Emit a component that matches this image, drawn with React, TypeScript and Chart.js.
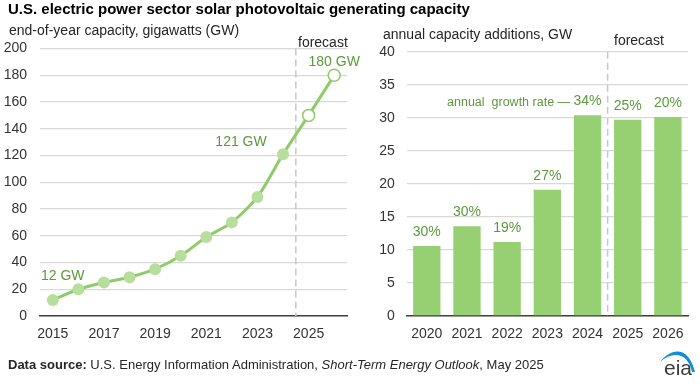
import React, { useEffect, useRef } from "react";
import { Chart, registerables } from "chart.js";

Chart.register(...registerables);

// ---------- data ----------
const capacityYears = ["2015", "2016", "2017", "2018", "2019", "2020", "2021", "2022", "2023", "2024", "2025", "2026"];
const capacityGW = [12, 20, 25, 29, 35, 45, 59, 70, 89, 121, 150, 180];
const capacityForecastStart = 10; // index of first forecast year (2025)
const capacityLabelIndexes = [0, 9, 11];
const capacityLabelTexts = ["12 GW", "121 GW", "180 GW"];

const additionYears = ["2020", "2021", "2022", "2023", "2024", "2025", "2026"];
const additionsGW = [10.6, 13.6, 11.2, 19.1, 30.4, 29.7, 30.1];
const growthRates = ["30%", "30%", "19%", "27%", "34%", "25%", "20%"];
const additionsForecastStart = 5; // 2025
const growthNoteIndex = 4;
const growthNotePrefix = "annual  growth rate \u2014 ";

const capacityAxisMax = 200;
const capacityAxisStep = 20;
const additionsAxisMax = 40;
const additionsAxisStep = 5;

// ---------- styles ----------
const FONT = '"Liberation Sans", Arial, Helvetica, sans-serif';
const TICK_COLOR = "#333333";
const GRID_COLOR = "#d9d9d9";
const AXIS_COLOR = "#404040";
const LINE_COLOR = "#8fcb69";
const POINT_FILL = "#b8de9e";
const BAR_COLOR = "#97d072";
const LABEL_GREEN = "#5b9a3a";
const DASH_COLOR = "#c8c8c8";

const forecastLinePlugin = (splitIndex: number) => ({
  id: "forecastLine",
  beforeDatasetsDraw(chart: any) {
    const x = chart.scales.x;
    const { top, bottom } = chart.chartArea;
    const px = (x.getPixelForValue(splitIndex - 1) + x.getPixelForValue(splitIndex)) / 2;
    const ctx = chart.ctx;
    ctx.save();
    ctx.strokeStyle = DASH_COLOR;
    ctx.lineWidth = 1.5;
    ctx.setLineDash([7, 4]);
    ctx.beginPath();
    ctx.moveTo(px, top);
    ctx.lineTo(px, bottom);
    ctx.stroke();
    ctx.restore();
  },
});

const capacityLabelPlugin = {
  id: "capacityLabels",
  afterDatasetsDraw(chart: any) {
    const meta = chart.getDatasetMeta(0);
    const ctx = chart.ctx;
    ctx.save();
    ctx.fillStyle = LABEL_GREEN;
    ctx.font = `14px ${FONT}`;
    ctx.textBaseline = "middle";
    capacityLabelIndexes.forEach((idx, k) => {
      const pt = meta.data[idx];
      let dx = 0;
      let dy = -13;
      if (k === 0) { dx = 10; dy = -24; }
      if (k === 1) { dx = -42; dy = -12; }
      ctx.textAlign = "center";
      ctx.fillText(capacityLabelTexts[k], pt.x + dx, pt.y + dy);
    });
    ctx.restore();
  },
};

const growthLabelPlugin = {
  id: "growthLabels",
  afterDatasetsDraw(chart: any) {
    const meta = chart.getDatasetMeta(0);
    const ctx = chart.ctx;
    ctx.save();
    ctx.fillStyle = LABEL_GREEN;
    ctx.textBaseline = "middle";
    growthRates.forEach((txt, i) => {
      const bar = meta.data[i];
      const y = bar.y - 14;
      ctx.font = `14px ${FONT}`;
      ctx.textAlign = "center";
      ctx.fillText(txt, bar.x, y);
      if (i === growthNoteIndex) {
        const w = ctx.measureText(txt).width;
        ctx.font = `12.5px ${FONT}`;
        ctx.textAlign = "right";
        ctx.fillText(growthNotePrefix, bar.x - w / 2, y + 1);
      }
    });
    ctx.restore();
  },
};

const tickFont = { family: FONT, size: 14 };

export default function App() {
  const leftRef = useRef<HTMLCanvasElement>(null);
  const rightRef = useRef<HTMLCanvasElement>(null);

  useEffect(() => {
    document.body.style.margin = "0";
    const left = new Chart(leftRef.current as HTMLCanvasElement, {
      type: "line",
      data: {
        labels: capacityYears,
        datasets: [
          {
            data: capacityGW,
            borderColor: LINE_COLOR,
            borderWidth: 3,
            tension: 0.25,
            pointRadius: 6,
            pointHoverRadius: 6,
            pointBackgroundColor: capacityGW.map((_, i) => (i >= capacityForecastStart ? "#ffffff" : POINT_FILL)),
            pointBorderColor: capacityGW.map((_, i) => (i >= capacityForecastStart ? LINE_COLOR : POINT_FILL)),
            pointBorderWidth: capacityGW.map((_, i) => (i >= capacityForecastStart ? 1.5 : 0)),
          },
        ],
      },
      options: {
        responsive: false,
        animation: false,
        devicePixelRatio: 1,
        layout: { padding: { left: 0, right: 13, top: 48.5, bottom: 44 } },
        plugins: { legend: { display: false }, tooltip: { enabled: false } },
        scales: {
          x: {
            offset: true,
            grid: { display: false, drawTicks: false },
            border: { display: true, color: AXIS_COLOR, width: 1.5 },
            ticks: {
              color: TICK_COLOR,
              font: tickFont,
              autoSkip: false,
              maxRotation: 0,
              padding: 10,
              callback: (_v: any, i: number) => (i % 2 === 0 ? capacityYears[i] : ""),
            },
            afterFit: (s: any) => { s.height = 30; },
          },
          y: {
            min: 0,
            max: capacityAxisMax,
            grid: { color: GRID_COLOR, lineWidth: 1.3, drawTicks: false },
            border: { display: false },
            ticks: { stepSize: capacityAxisStep, color: TICK_COLOR, font: tickFont, padding: 13 },
            afterFit: (s: any) => { s.width = 40; },
          },
        },
      },
      plugins: [forecastLinePlugin(capacityForecastStart), capacityLabelPlugin],
    } as any);

    const right = new Chart(rightRef.current as HTMLCanvasElement, {
      type: "bar",
      data: {
        labels: additionYears,
        datasets: [
          {
            data: additionsGW,
            backgroundColor: BAR_COLOR,
            borderWidth: 0,
            categoryPercentage: 1,
            barPercentage: 0.68,
          },
        ],
      },
      options: {
        responsive: false,
        animation: false,
        devicePixelRatio: 1,
        layout: { padding: { left: 0, right: 12, top: 51.7, bottom: 44 } },
        plugins: { legend: { display: false }, tooltip: { enabled: false } },
        scales: {
          x: {
            grid: { display: false, drawTicks: false },
            border: { display: true, color: AXIS_COLOR, width: 1.5 },
            ticks: { color: TICK_COLOR, font: tickFont, autoSkip: false, maxRotation: 0, padding: 10 },
            afterFit: (s: any) => { s.height = 30; },
          },
          y: {
            min: 0,
            max: additionsAxisMax,
            grid: { color: GRID_COLOR, lineWidth: 1.3, drawTicks: false },
            border: { display: false },
            ticks: { stepSize: additionsAxisStep, color: TICK_COLOR, font: tickFont, padding: 12 },
            afterFit: (s: any) => { s.width = 46.7; },
          },
        },
      },
      plugins: [forecastLinePlugin(additionsForecastStart), growthLabelPlugin],
    } as any);

    return () => {
      left.destroy();
      right.destroy();
    };
  }, []);

  const text = (style: React.CSSProperties): React.CSSProperties => ({
    position: "absolute",
    whiteSpace: "nowrap",
    lineHeight: 1,
    fontFamily: FONT,
    ...style,
  });

  return (
    <div style={{ position: "fixed", left: 0, top: 0, width: 700, height: 390, background: "#ffffff", overflow: "hidden", fontFamily: FONT }}>
      <canvas ref={leftRef} width={360} height={390} style={{ position: "absolute", left: 0, top: 0, width: 360, height: 390 }} />
      <canvas ref={rightRef} width={340} height={390} style={{ position: "absolute", left: 360, top: 0, width: 340, height: 390 }} />
      <div style={text({ left: 8, top: 1, fontSize: 15, fontWeight: "bold", color: "#000" })}>
        U.S. electric power sector solar photovoltaic generating capacity
      </div>
      <div style={text({ left: 9, top: 23, fontSize: 14, color: "#262626" })}>end-of-year capacity, gigawatts (GW)</div>
      <div style={text({ left: 298, top: 35, fontSize: 14, color: "#262626" })}>forecast</div>
      <div style={text({ left: 383, top: 27, fontSize: 14, color: "#262626" })}>annual capacity additions, GW</div>
      <div style={text({ left: 614, top: 33, fontSize: 14, color: "#262626" })}>forecast</div>
      <div style={text({ left: 8, top: 358, fontSize: 13, color: "#262626" })}>
        <b>Data source:</b> U.S. Energy Information Administration, <i>Short-Term Energy Outlook</i>, May 2025
      </div>
      <svg style={{ position: "absolute", left: 655, top: 338 }} width={45} height={42} viewBox="0 0 45 42">
        <path d="M5,24 C15,11 33,6 40,34 L37,34 C33,14 17,13 5,24 Z" fill="#0f8fd6" />
        <text x={9} y={37} fontFamily={FONT} fontSize={21} fill="#3c3c3c">eia</text>
      </svg>
    </div>
  );
}
